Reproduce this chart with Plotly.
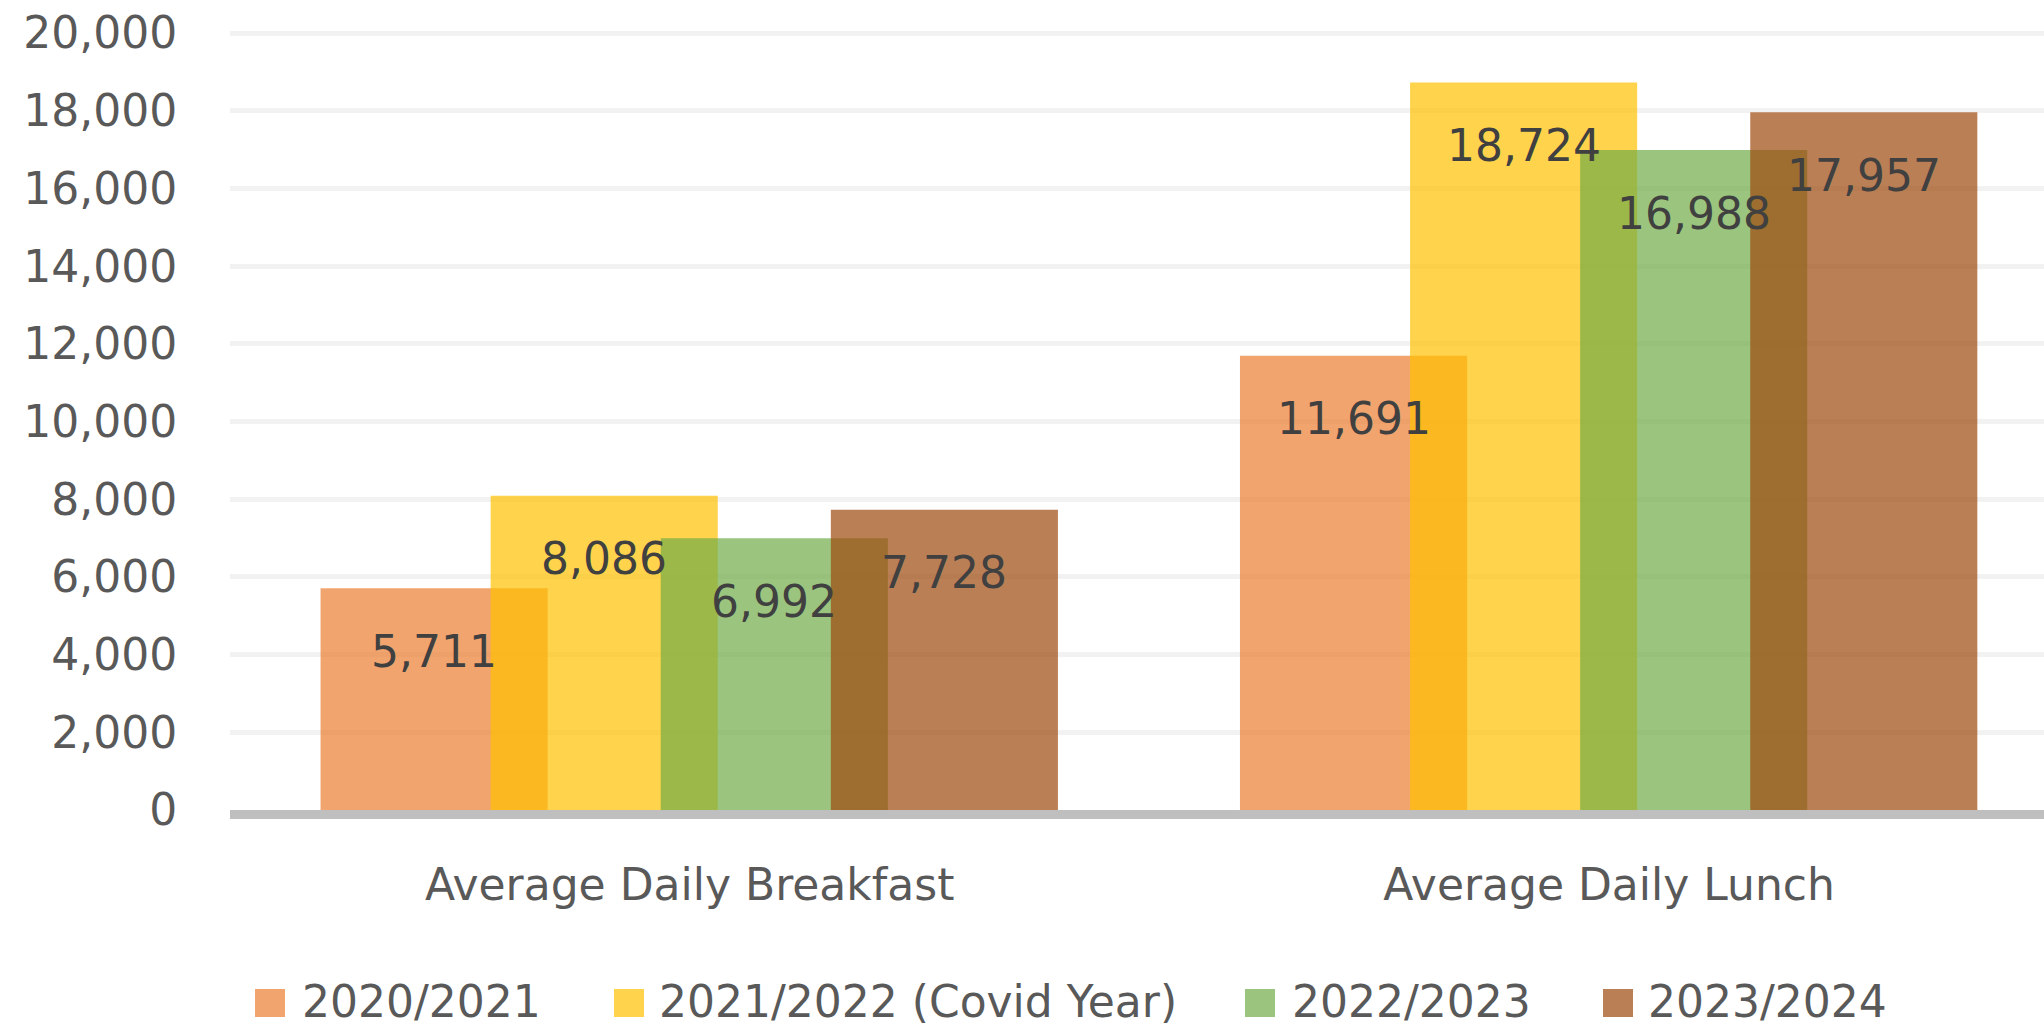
import plotly.graph_objects as go

# ---- data ----
categories = ["Average Daily Breakfast", "Average Daily Lunch"]
series_names = ["2020/2021", "2021/2022 (Covid Year)", "2022/2023", "2023/2024"]
values_2020_2021 = [5711, 11691]
values_2021_2022 = [8086, 18724]
values_2022_2023 = [6992, 16988]
values_2023_2024 = [7728, 17957]
y_tick_values = [0, 2000, 4000, 6000, 8000, 10000, 12000, 14000, 16000, 18000, 20000]

series_values = [values_2020_2021, values_2021_2022, values_2022_2023, values_2023_2024]

# ---- styles ----
colors = ["rgba(237,125,49,0.7)", "rgba(255,192,0,0.7)",
          "rgba(112,173,71,0.7)", "rgba(158,72,14,0.7)"]
W, H = 2044, 1026
ML, MR, MT, MB = 230, 0, 21, 216
PW, PH = W - ML - MR, H - MT - MB
FONT = "DejaVu Sans"
bar_width = 0.247
offsets = [-0.4015, -0.2165, -0.0315, 0.1535]


def px_x(p):
    return (p - ML) / PW


def px_y(p):
    return (H - MB - p) / PH


fig = go.Figure()
for name, vals, col, off in zip(series_names, series_values, colors, offsets):
    fig.add_trace(go.Bar(
        x=categories, y=vals, name=name, offset=off, width=bar_width,
        marker=dict(color=col, line=dict(width=0)), showlegend=False,
        hoverinfo="skip"))
    for i, v in enumerate(vals):
        fig.add_annotation(
            x=i + off + bar_width / 2, y=v, xref="x", yref="y",
            text=f"{v:,}", showarrow=False, yanchor="middle", yshift=-63,
            font=dict(family=FONT, size=44, color="#404040"))

# manual legend (large squares like the original)
legend_sq_x = [255, 614, 1245, 1603]
legend_txt_x = [300, 657, 1290, 1646]
for name, col, sx, tx in zip(series_names, colors, legend_sq_x, legend_txt_x):
    fig.add_shape(type="rect", xref="paper", yref="paper",
                  x0=px_x(sx), x1=px_x(sx + 30), y0=px_y(989), y1=px_y(1017),
                  fillcolor=col, line=dict(width=0))
    fig.add_annotation(xref="paper", yref="paper", x=px_x(tx), y=px_y(1001),
                       xanchor="left", yanchor="middle", text=name,
                       showarrow=False,
                       font=dict(family=FONT, size=44, color="#595959"))

fig.update_layout(
    width=W, height=H, barmode="overlay",
    margin=dict(l=ML, r=MR, t=MT, b=MB, pad=0),
    paper_bgcolor="white", plot_bgcolor="white",
    font=dict(family=FONT, size=44, color="#595959"),
)
fig.update_xaxes(
    type="category", categoryorder="array", categoryarray=categories,
    range=[-0.5, 1.473], showgrid=False, zeroline=False,
    showline=True, linecolor="#BFBFBF", linewidth=9,
    ticks="outside", ticklen=28, tickcolor="rgba(0,0,0,0)",
    tickfont=dict(family=FONT, size=44, color="#595959"))
fig.update_yaxes(
    range=[0, PH / (777 / 20000)], tickvals=y_tick_values, tickformat=",",
    showgrid=True, gridcolor="#F2F2F2", gridwidth=5, zeroline=False,
    showline=False, ticks="outside", ticklen=43, tickcolor="rgba(0,0,0,0)",
    tickfont=dict(family=FONT, size=44, color="#595959"))

fig.write_html("out.html", include_plotlyjs=True,
               config={"displayModeBar": False},
               post_script="document.body.style.margin='0';document.body.style.overflow='hidden';")
